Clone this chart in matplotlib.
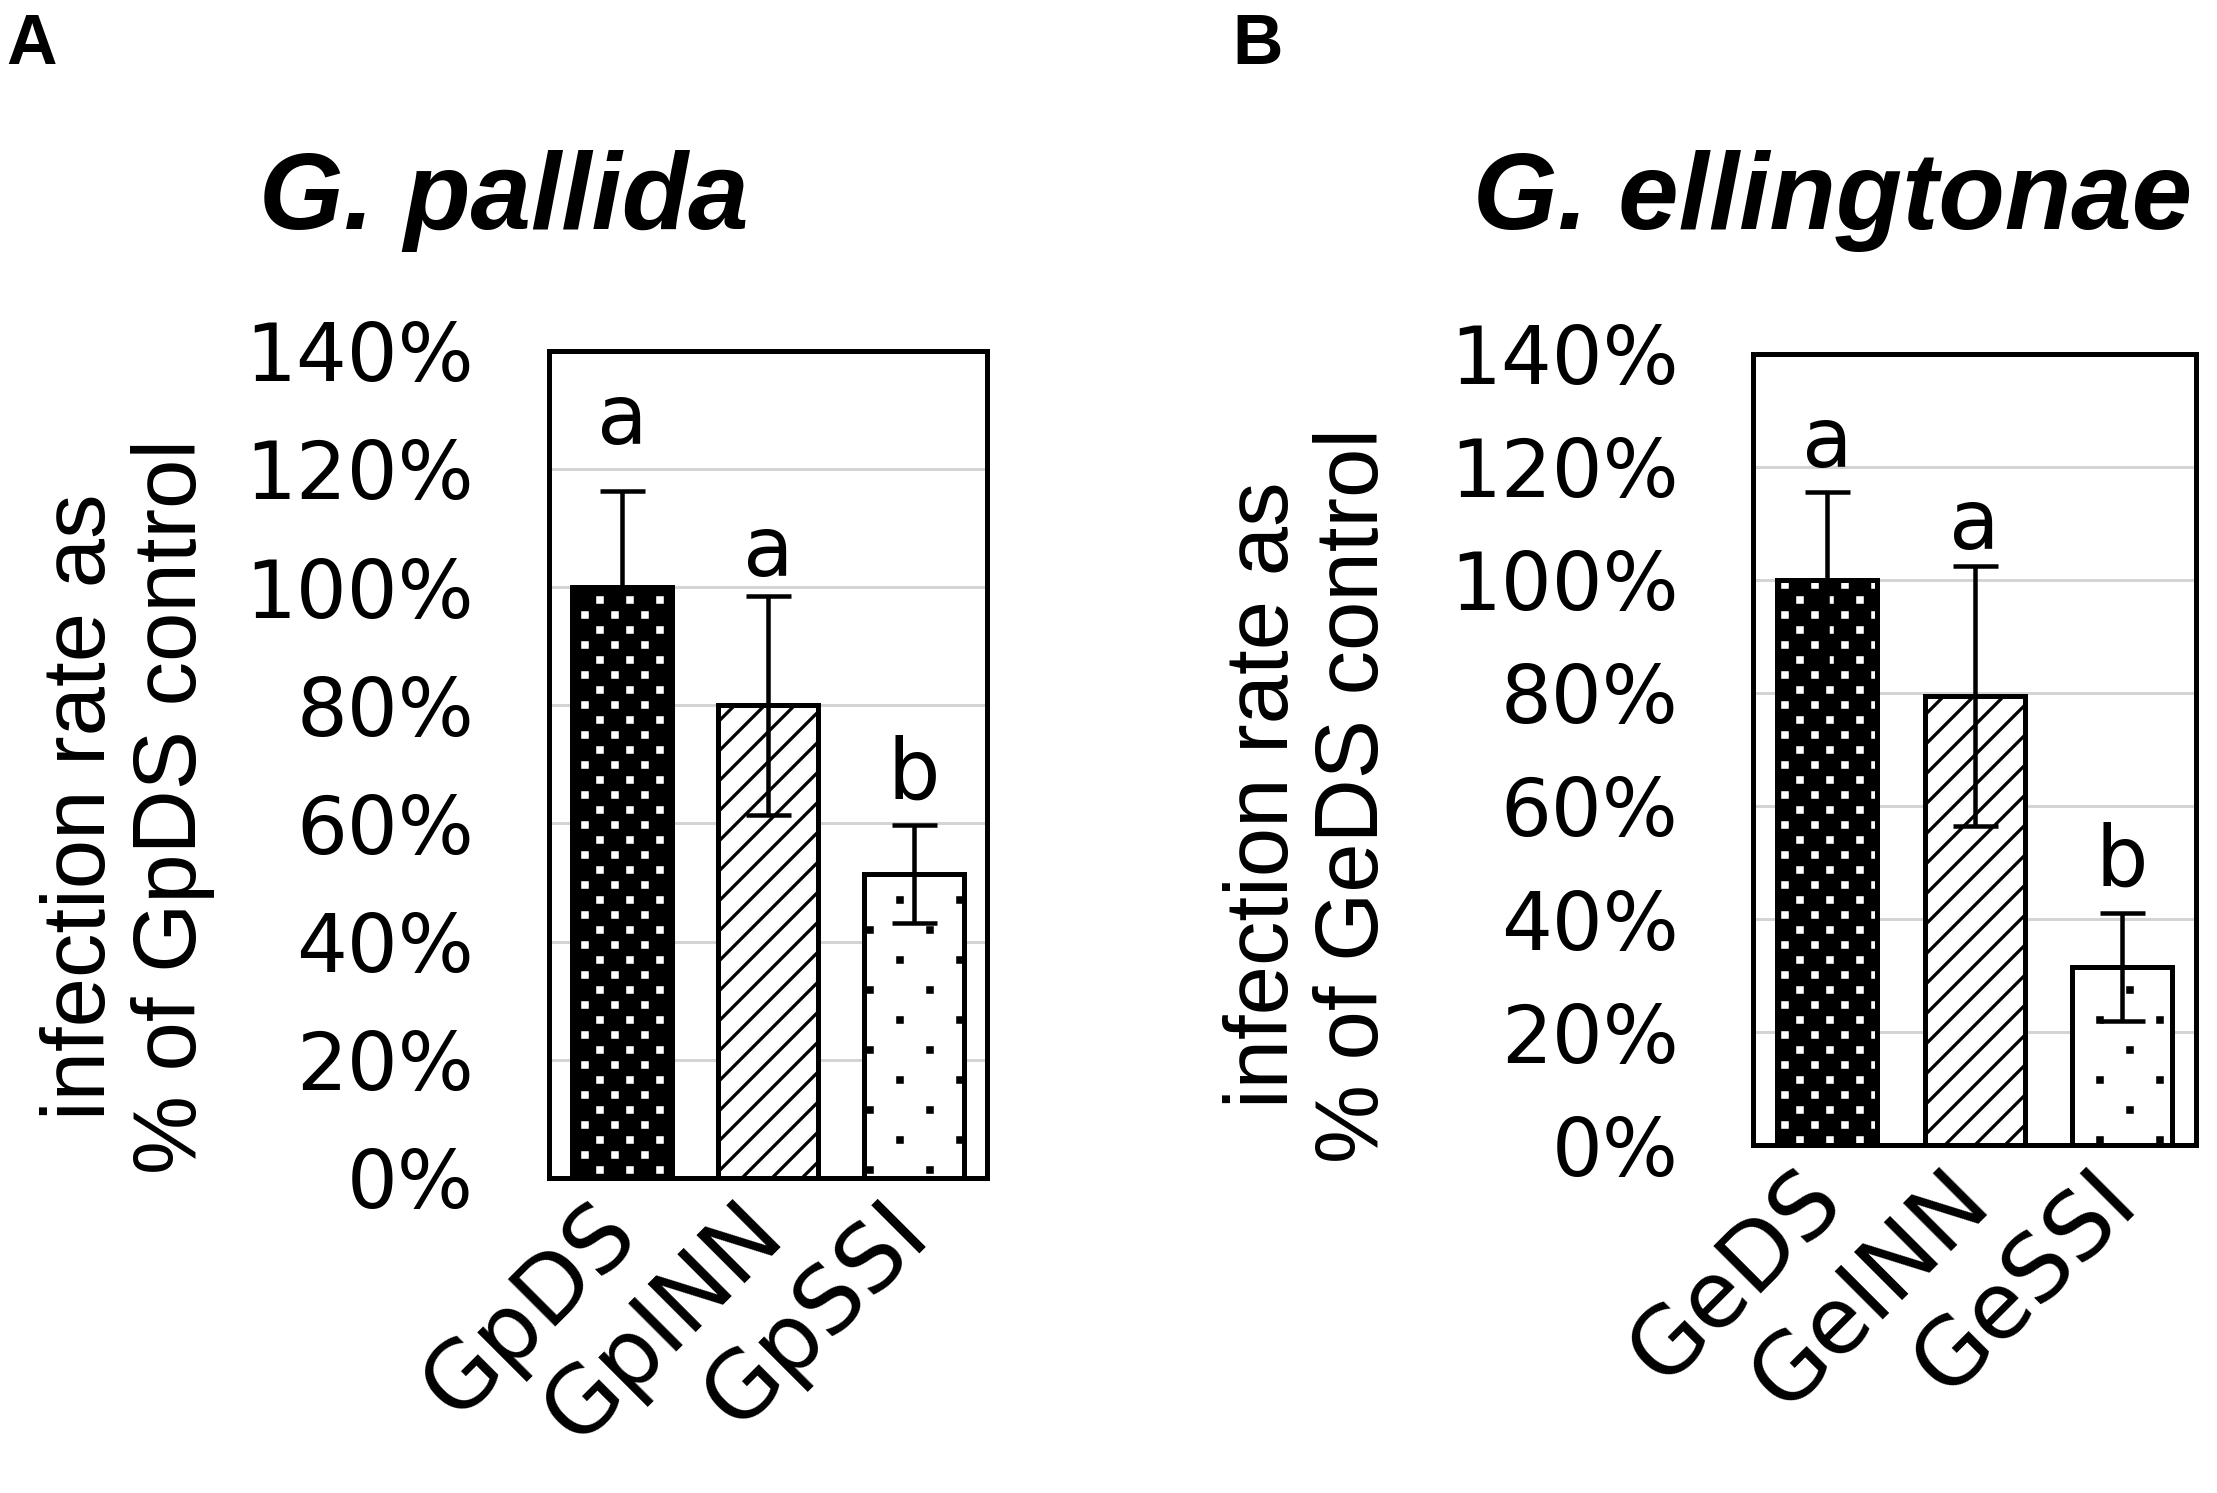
import matplotlib
matplotlib.use("Agg")
import matplotlib.pyplot as plt
import matplotlib.hatch as mhatch
from matplotlib.path import Path
from matplotlib.transforms import ScaledTranslation
import numpy as np

# ---------------- data ----------------
cats_a = ["GpDS", "GpINN", "GpSSI"]
means_a = [100.0, 80.0, 51.5]
err_a = [16.3, 18.5, 8.3]
letters_a = ["a", "a", "b"]

cats_b = ["GeDS", "GeINN", "GeSSI"]
means_b = [100.0, 79.5, 31.5]
err_b = [15.6, 23.0, 9.5]
letters_b = ["a", "a", "b"]

yticks = [0, 20, 40, 60, 80, 100, 120, 140]


# ---------------- custom dot hatches (staggered square dots) ----------------
class _DotLattice(mhatch.HatchPatternBase):
    char = 'o'
    ncols = 6
    nrows = 12
    half = 0.007

    def __init__(self, hatch, density):
        pts = []
        if hatch is not None and hatch.count(self.char) > 0:
            for r in range(self.nrows + 1):
                y = r / self.nrows
                if r % 2 == 0:
                    xs = [c / self.ncols for c in range(self.ncols + 1)]
                else:
                    xs = [(c + 0.5) / self.ncols for c in range(self.ncols)]
                pts += [(xx, y) for xx in xs]
        self.pts = pts
        self.num_vertices = len(pts) * 5

    def set_vertices_and_codes(self, vertices, codes):
        h = self.half
        sq = np.array([[-h, -h], [h, -h], [h, h], [-h, h], [-h, -h]])
        for i, (px, py) in enumerate(self.pts):
            vertices[i * 5:(i + 1) * 5] = sq + (px, py)
            codes[i * 5] = Path.MOVETO
            codes[i * 5 + 1:i * 5 + 4] = Path.LINETO
            codes[i * 5 + 4] = Path.CLOSEPOLY


class DenseDots(_DotLattice):
    char = 'o'
    ncols = 6
    nrows = 12
    half = 0.012


class SparseDots(_DotLattice):
    char = 'O'
    ncols = 3
    nrows = 6
    half = 0.012


mhatch._hatch_types[:] = [t for t in mhatch._hatch_types
                          if t not in (mhatch.SmallCircles, mhatch.LargeCircles)]
mhatch._hatch_types += [DenseDots, SparseDots]

# ---------------- style ----------------
DPI = 180
plt.rcParams['hatch.linewidth'] = 1.3
fig = plt.figure(figsize=(2217 / DPI, 1493 / DPI), dpi=DPI)

hatches = ['o', '//', 'O']
faces = ['black', 'white', 'white']
hcols = ['white', 'black', 'black']
BW = 0.68


def panel(rect, cats, means, errs, letters, title, title_x, ylab, ylab_x, ylab_y, letter_offsets):
    ax = fig.add_axes(rect)
    x = np.arange(len(cats))
    for xi, m, h, fc, hc in zip(x, means, hatches, faces, hcols):
        ax.bar(xi, m, width=BW, color=fc, edgecolor=hc, hatch=h, linewidth=0, zorder=2)
    ax.bar(x, means, width=BW, fill=False, edgecolor='black', linewidth=2.0, zorder=3)
    ax.errorbar(x, means, yerr=errs, fmt='none', ecolor='black', elinewidth=1.8,
                capsize=9, capthick=1.8, zorder=4)
    for xi, m, e, l, off in zip(x, means, errs, letters, letter_offsets):
        ax.annotate(l, (xi, m + e), xytext=(0, off), textcoords='offset points',
                    ha='center', va='bottom', fontsize=33, family='DejaVu Sans', zorder=5)
    ax.set_xlim(-0.5, 2.5)
    ax.set_ylim(0, 140)
    ax.set_yticks(yticks)
    ax.set_yticklabels([f"{t}%" for t in yticks], fontsize=32, family='DejaVu Sans')
    ax.set_xticks(x)
    ax.set_xticklabels(cats, rotation=45, ha='right', va='center', rotation_mode='anchor',
                       fontsize=37, family='DejaVu Sans')
    shift = ScaledTranslation(36 / DPI, 0, fig.dpi_scale_trans)
    for lab in ax.get_xticklabels():
        lab.set_transform(lab.get_transform() + shift)
    ax.tick_params(axis='y', length=0, pad=30)
    ax.tick_params(axis='x', length=0, pad=16)
    ax.yaxis.grid(True, color='#d4d4d4', linewidth=1.2, zorder=0)
    ax.set_axisbelow(True)
    for s in ax.spines.values():
        s.set_linewidth(2.0)
        s.set_color('black')
    fig.text(title_x, 0.8466, title, ha='center', va='baseline', fontsize=43.5,
             fontweight='bold', fontstyle='italic', family='Liberation Sans')
    fig.text(ylab_x, ylab_y, ylab, rotation=90, ha='center', va='center', fontsize=35.5,
             family='Liberation Sans', linespacing=1.1, multialignment='center')
    return ax


panel([0.2476, 0.2110, 0.1976, 0.5541], cats_a, means_a, err_a, letters_a,
      "G. pallida", 0.2274, "infection rate as\n% of GpDS control", 0.0575, 0.46,
      [12, 1.2, 3.5])
panel([0.7909, 0.2329, 0.1996, 0.5303], cats_b, means_b, err_b, letters_b,
      "G. ellingtonae", 0.8267, "infection rate as\n% of GeDS control", 0.5908, 0.4675,
      [3.2, 0, 4.5])

fig.text(0.003, 0.957, "A", ha='left', va='baseline', fontsize=28, fontweight='bold',
         family='Liberation Sans')
fig.text(0.556, 0.957, "B", ha='left', va='baseline', fontsize=28, fontweight='bold',
         family='Liberation Sans')

fig.savefig("out.png", dpi=DPI)
